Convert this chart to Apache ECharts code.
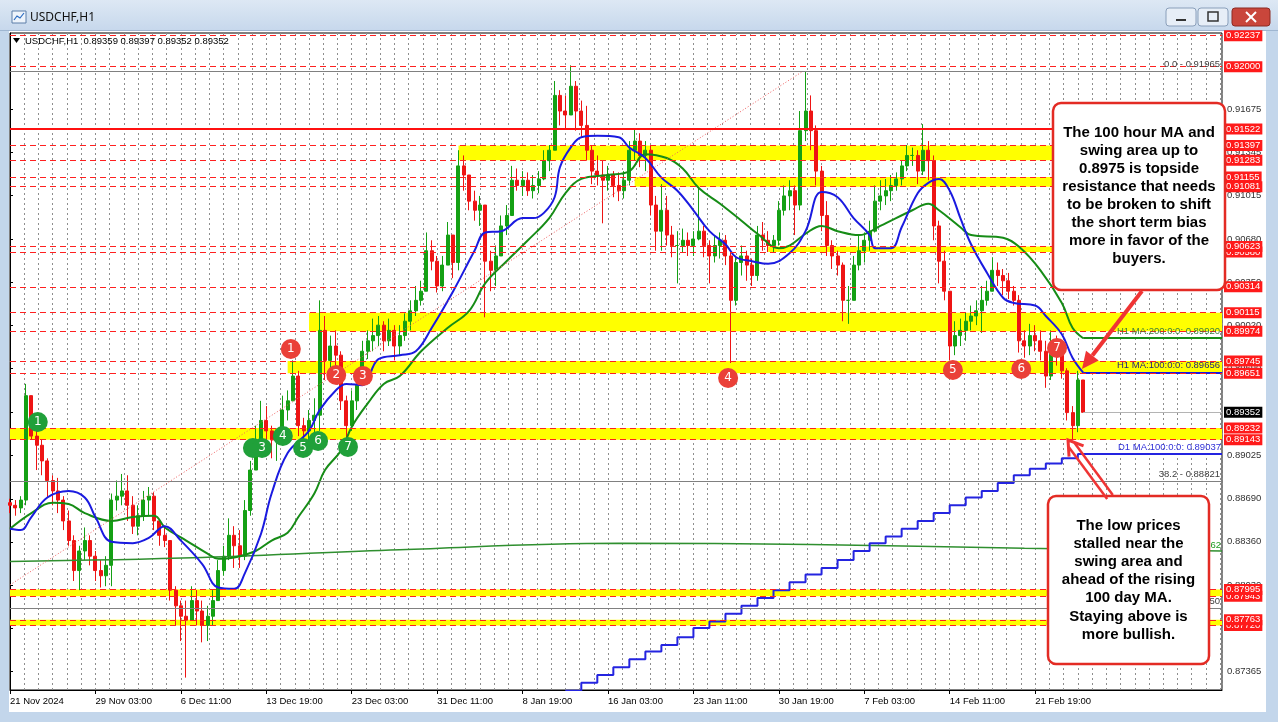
<!DOCTYPE html>
<html><head><meta charset="utf-8">
<script src="https://cdn.jsdelivr.net/npm/echarts@6/dist/echarts.min.js"></script>
<style>html,body{margin:0;padding:0;background:#fff;overflow:hidden}#c{width:1278px;height:722px}</style>
</head><body><div id="c"></div>
<script>
// ---------- DATA ----------
const tickLabels = ['21 Nov 2024','29 Nov 03:00','6 Dec 11:00','13 Dec 19:00','23 Dec 03:00','31 Dec 11:00','8 Jan 19:00','16 Jan 03:00','23 Jan 11:00','30 Jan 19:00','7 Feb 03:00','14 Feb 11:00','21 Feb 19:00'];
const BARS_PER_LABEL = 16;   // 8-hour bars
const SLOTS = 228;
const firstOpen = 0.8866;
const closes = [
0.8864,0.8862,0.8868,0.8948,0.8917,0.8910,0.8898,0.8883,0.8875,0.8868,
0.8852,0.8837,0.8814,0.8829,0.8837,0.8825,0.8814,0.8810,0.8818,0.8868,
0.8871,0.8875,0.8864,0.8848,0.8856,0.8868,0.8871,0.8852,0.8841,0.8837,
0.8799,0.8787,0.8779,0.8776,0.8791,0.8783,0.8772,0.8779,0.8791,0.8814,
0.8825,0.8841,0.8833,0.8825,0.8860,0.8891,0.8914,0.8929,0.8921,0.8914,
0.8914,0.8937,0.8944,0.8963,0.8925,0.8921,0.8929,0.8933,0.8998,0.8975,
0.8986,0.8979,0.8944,0.8925,0.8944,0.8956,0.8982,0.8990,0.8994,0.9002,
0.8990,0.8998,0.8986,0.8994,0.9005,0.9013,0.9021,0.9028,0.9059,0.9051,
0.9032,0.9048,0.9071,0.9050,0.9124,0.9117,0.9097,0.9090,0.9094,0.9051,
0.9044,0.9055,0.9078,0.9086,0.9113,0.9109,0.9113,0.9105,0.9109,0.9114,
0.9128,0.9136,0.9178,0.9166,0.9163,0.9185,0.9166,0.9155,0.9136,0.9120,
0.9117,0.9113,0.9117,0.9109,0.9105,0.9113,0.9136,0.9143,0.9132,0.9136,
0.9094,0.9074,0.9090,0.9071,0.9063,0.9063,0.9067,0.9063,0.9068,0.9074,
0.9063,0.9055,0.9063,0.9067,0.9055,0.9021,0.9050,0.9055,0.9048,0.9040,
0.9071,0.9067,0.9063,0.9067,0.9090,0.9101,0.9105,0.9094,0.9151,0.9166,
0.9151,0.9120,0.9086,0.9063,0.9055,0.9048,0.9021,0.9021,0.9048,0.9059,
0.9067,0.9074,0.9097,0.9101,0.9105,0.9109,0.9114,0.9124,0.9132,0.9132,
0.9120,0.9136,0.9128,0.9078,0.9051,0.9028,0.8986,0.8994,0.8998,0.9005,
0.9009,0.9013,0.9021,0.9028,0.9044,0.9040,0.9036,0.9028,0.9021,0.8990,
0.8986,0.8994,0.8990,0.8982,0.8963,0.8986,0.8979,0.8967,0.8935,0.8925,
0.8960,0.89352];
const highs = [
0.8869,0.8868,0.8871,0.8957,0.8948,0.8921,0.8914,0.8900,0.8887,0.8885,
0.8871,0.8860,0.8841,0.8833,0.8847,0.8841,0.8829,0.8822,0.8825,0.8873,
0.8883,0.8888,0.8887,0.8871,0.8864,0.8875,0.8878,0.8874,0.8852,0.8848,
0.8837,0.8802,0.8791,0.8791,0.8802,0.8799,0.8791,0.8787,0.8799,0.8822,
0.8833,0.8854,0.8848,0.8845,0.8868,0.8898,0.8925,0.8944,0.8940,0.8925,
0.8921,0.8948,0.8952,0.8975,0.8967,0.8931,0.8937,0.8946,0.9021,0.9009,
0.8994,0.8998,0.8982,0.8948,0.8952,0.8963,0.8990,0.8998,0.9007,0.9009,
0.9005,0.9007,0.9002,0.9002,0.9011,0.9021,0.9032,0.9036,0.9073,0.9067,
0.9055,0.9055,0.9081,0.9071,0.9136,0.9132,0.9117,0.9105,0.9101,0.9094,
0.9059,0.9063,0.9086,0.9094,0.9124,0.9122,0.9120,0.9119,0.9117,0.9120,
0.9136,0.9140,0.9189,0.9182,0.9178,0.9201,0.9189,0.9174,0.9170,0.9140,
0.9132,0.9128,0.9124,0.9120,0.9119,0.9120,0.9143,0.9153,0.9149,0.9143,
0.9140,0.9101,0.9110,0.9101,0.9078,0.9074,0.9076,0.9073,0.9074,0.9107,
0.9078,0.9067,0.9071,0.9073,0.9071,0.9059,0.9055,0.9063,0.9059,0.9053,
0.9078,0.9081,0.9074,0.9071,0.9097,0.9109,0.9113,0.9109,0.9166,0.91965,
0.9178,0.9155,0.9124,0.9097,0.9067,0.9059,0.9050,0.9032,0.9055,0.9071,
0.9073,0.9082,0.9109,0.9113,0.9114,0.9117,0.9119,0.9128,0.9140,0.9138,
0.9136,0.9156,0.9143,0.9132,0.9082,0.9059,0.9028,0.9005,0.9007,0.9012,
0.9017,0.9021,0.9032,0.9036,0.9054,0.9050,0.9045,0.9042,0.9032,0.9025,
0.8998,0.9003,0.9002,0.8998,0.8990,0.8998,0.8994,0.8982,0.8969,0.8940,
0.8967,0.89397];
const lows = [
0.8858,0.8856,0.8858,0.8864,0.8914,0.8891,0.8887,0.8870,0.8864,0.8858,
0.8845,0.8833,0.8806,0.8799,0.8822,0.8818,0.8806,0.8801,0.8802,0.8802,
0.8860,0.8864,0.8852,0.8842,0.8841,0.8852,0.8856,0.8845,0.8833,0.8832,
0.8791,0.8772,0.8760,0.8732,0.8776,0.8772,0.8759,0.8760,0.8772,0.8791,
0.8810,0.8822,0.8816,0.8816,0.8822,0.8856,0.8891,0.8914,0.8914,0.8900,
0.8898,0.8910,0.8929,0.8944,0.8917,0.8914,0.8914,0.8914,0.8921,0.8960,
0.8967,0.8971,0.8937,0.8916,0.8921,0.8937,0.8956,0.8976,0.8982,0.8986,
0.8982,0.8986,0.8975,0.8979,0.8990,0.8998,0.9009,0.9017,0.9028,0.9044,
0.9027,0.9028,0.9048,0.9038,0.9044,0.9105,0.9090,0.9082,0.9078,0.9008,
0.9028,0.9032,0.9055,0.9071,0.9086,0.9105,0.9101,0.9101,0.9099,0.9103,
0.9113,0.9120,0.9136,0.9155,0.9153,0.9163,0.9151,0.9146,0.9128,0.9110,
0.9109,0.9080,0.9105,0.9100,0.9097,0.9099,0.9109,0.9128,0.9123,0.9120,
0.9086,0.9059,0.9059,0.9063,0.9054,0.9034,0.9058,0.9055,0.9055,0.9067,
0.9054,0.9034,0.9050,0.9053,0.9048,0.8973,0.9017,0.9040,0.9036,0.9032,
0.9036,0.9059,0.9058,0.9058,0.9063,0.9086,0.9090,0.9071,0.9090,0.9143,
0.9136,0.9109,0.9074,0.9055,0.9045,0.9040,0.9005,0.9003,0.9021,0.9044,
0.9050,0.9059,0.9073,0.9090,0.9094,0.9097,0.9105,0.9109,0.9120,0.9124,
0.9110,0.9117,0.9113,0.9067,0.9034,0.9021,0.8975,0.8979,0.8986,0.8990,
0.8998,0.9002,0.8996,0.9017,0.9028,0.9032,0.9025,0.9022,0.9017,0.8981,
0.8977,0.8979,0.8982,0.8975,0.8954,0.8960,0.8971,0.8961,0.8929,0.8914,
0.8920,0.89352];

// H1 MA 100 (blue)
const ma100Bars = [0,2,4,7,11,14,16,19,23,26,29,32,36,39,42,44,47,49,52,56,58,61,63,66,69,73,76,79,83,87,89,92,96,98,100,102,103,105,107,110,114,116,119,122,125,128,131,134,136,139,142,146,149,152,155,158,161,162,165,167,170,172,174,176,178,180,183,186,188,192,194,197,199,201];
const ma100Vals = [0.8846,0.8845,0.8855,0.8870,0.8875,0.8870,0.8855,0.8836,0.8835,0.8839,0.8848,0.8837,0.8819,0.8801,0.8800,0.8812,0.8842,0.8873,0.8904,0.8921,0.8937,0.8952,0.8957,0.8956,0.8976,0.8979,0.8982,0.9000,0.9028,0.9059,0.9073,0.9074,0.9084,0.9084,0.9088,0.9100,0.9123,0.9138,0.9146,0.9147,0.9146,0.9138,0.9130,0.9115,0.9105,0.9090,0.9074,0.9064,0.9054,0.9051,0.9049,0.9057,0.9074,0.9104,0.9100,0.9084,0.9071,0.9061,0.9061,0.9077,0.9103,0.9111,0.9114,0.9105,0.9084,0.9064,0.9042,0.9023,0.9019,0.9017,0.9009,0.8995,0.8977,0.89656];
// H1 MA 200 (green)
const ma200Bars = [0,4,8,11,14,19,23,27,29,33,37,39,42,46,49,52,54,57,59,62,64,67,70,73,77,82,86,89,93,97,101,104,107,112,116,119,123,126,129,133,137,140,144,146,149,152,155,159,163,169,172,174,178,180,186,189,193,197,199,201];
const ma200Vals = [0.8846,0.8858,0.8866,0.8865,0.8858,0.8852,0.8855,0.8856,0.8847,0.8837,0.8827,0.8823,0.8824,0.8829,0.8837,0.8843,0.8855,0.8873,0.8891,0.8906,0.8924,0.8942,0.8957,0.8963,0.8982,0.9000,0.9013,0.9034,0.9051,0.9067,0.9084,0.9103,0.9114,0.9117,0.9120,0.9133,0.9130,0.9122,0.9107,0.9095,0.9082,0.9072,0.9061,0.9063,0.9072,0.9078,0.9074,0.9071,0.9078,0.9090,0.9095,0.9090,0.9077,0.9071,0.9069,0.9062,0.9044,0.9019,0.9000,0.8992];
const h1Ma100Last = 0.89656, h1Ma200Last = 0.89920;
// D1 MA 100 (blue staircase)
const d1Ma100Bars = [104,107,110,113,116,119,122,125,128,131,134,137,140,143,146,149,152,155,158,161,164,167,170,173,176,179,182,185,188,191,194,197,200];
const d1Ma100Vals = [0.8722,0.8728,0.8734,0.8740,0.8746,0.8752,0.8757,0.8763,0.8770,0.8775,0.8781,0.8787,0.8793,0.8799,0.8805,0.8811,0.8816,0.8822,0.8829,0.8835,0.8840,0.8846,0.8852,0.8858,0.8864,0.8870,0.8875,0.8881,0.8887,0.8892,0.8896,0.8900,0.89037];
// D1 MA 200 (green, flat)
const d1Ma200Bars = [0,36,73,114,150,190,227];
const d1Ma200Vals = [0.8821,0.8824,0.8830,0.8835,0.8834,0.8831,0.8829];
const d1Ma200Label = 0.88362;

const axisTicks = [0.91675,0.91345,0.91015,0.90680,0.90350,0.90020,0.89690,0.89355,0.89025,0.88690,0.88360,0.88030,0.87700,0.87365];
const levelPrices = [0.87720,0.87763,0.87943,0.87995,0.89143,0.89232,0.89651,0.89745,0.89974,0.90115,0.90314,0.90580,0.90623,0.91081,0.91155,0.91283,0.91397,0.91522,0.92000,0.92237];
const solidLevel = 0.91522;
const bandTops    = [0.91397,0.91155,0.90623,0.90115,0.89745,0.89232,0.87995,0.87763];
const bandBottoms = [0.91283,0.91081,0.90580,0.89974,0.89651,0.89143,0.87943,0.87720];
const bandStartBars = [84,117,142,56,52,0,0,0];
const fibPrices = [0.91965,0.88821,0.87850];
const fibTexts = ['0.0 - 0.91965','38.2 - 0.88821','50.0 - 0.87850'];
const trendStart = [0, 0.8803], trendEnd = [148.5, 0.91965];
const lastPrice = 0.89352;
const greenTags = ['1','','3','4','5','6','7'];
const greenBars = [5.2,45.5,47.2,51.1,54.9,57.7,63.3];
const greenPrices = [0.89278,0.89079,0.89079,0.89171,0.89079,0.89133,0.89087];
const redTags = ['1','2','3','4','5','6','7'];
const redBars = [52.6,61.1,66.1,134.5,176.6,189.4,196.1];
const redPrices = [0.89837,0.89638,0.89630,0.89615,0.89676,0.89684,0.89845];
const headerText = 'USDCHF,H1  0.89359 0.89397 0.89352 0.89352';
const note1 = ['The 100 hour MA and','swing area up to','0.8975 is topside','resistance that needs','to be broken to shift','the short term bias','more in favor of the','buyers.'];
const note2 = ['The low prices','stalled near the','swing area and','ahead of the rising','100 day MA.','Staying above is','more bullish.'];

// ---------- BUILD ----------
const candleData = closes.map((c, i) => [i === 0 ? firstOpen : closes[i - 1], c, lows[i], highs[i]]);
const cats = Array.from({length: SLOTS}, (_, i) => String(i));
const isLabelIdx = (idx) => idx % BARS_PER_LABEL === 0 && idx / BARS_PER_LABEL < tickLabels.length;
const pair = (xs, ys) => xs.map((x, i) => [x, ys[i]]);
const FONT = 'Liberation Sans';
const RED = '#ff2020';

const levelLines = levelPrices.map(p => ({
  yAxis: p,
  lineStyle: p === solidLevel ? {color: '#ff1010', width: 2, type: 'solid'} : {color: RED, width: 1, type: [6, 4]},
  label: {show: true, position: 'end', distance: 2, formatter: p.toFixed(5), color: '#fff', backgroundColor: '#ff1a1a',
          padding: [1, 2, 0, 2], fontSize: 9.5, fontFamily: FONT}
}));
const fibLines = fibPrices.map((p, i) => ({
  yAxis: p,
  lineStyle: {color: '#808080', width: 1, type: 'solid'},
  label: {show: true, position: 'insideEndTop', distance: 2, formatter: fibTexts[i], color: '#404040', fontSize: 9.5, fontFamily: FONT}
}));

function arrowHead(tip, tail, len, half) {
  const dx = tip[0] - tail[0], dy = tip[1] - tail[1], L = Math.hypot(dx, dy);
  const ux = dx / L, uy = dy / L, px = -uy, py = ux;
  const bx = tip[0] - ux * len, by = tip[1] - uy * len;
  return {pts: [[tip[0], tip[1]], [bx + px * half, by + py * half], [bx - px * half, by - py * half]], base: [bx, by], u: [ux, uy], p: [px, py]};
}
const arrowColor = '#ef3434';
const a1tip = [1082, 369], a1tail = [1142, 291];
const h1 = arrowHead(a1tip, a1tail, 17, 8);
const a2tip = [1068, 440], a2tail = [1110, 497];
const h2 = arrowHead(a2tip, a2tail, 14, 9);
const off = 3.5;
const a2lines = [-1, 1].map(s => ({
  type: 'line', z: 102,
  shape: {x1: a2tail[0] + h2.p[0] * off * s, y1: a2tail[1] + h2.p[1] * off * s,
          x2: a2tip[0] - h2.u[0] * 6 + h2.p[0] * off * s, y2: a2tip[1] - h2.u[1] * 6 + h2.p[1] * off * s},
  style: {stroke: arrowColor, lineWidth: 2.5}
}));

const graphics = [
  {type: 'rect', z: -10, shape: {x: 0, y: 0, width: 1278, height: 722}, style: {fill: '#c3d6eb'}},
  {type: 'rect', z: -9, shape: {x: 0, y: 0, width: 1278, height: 30},
   style: {fill: new echarts.graphic.LinearGradient(0, 0, 0, 1, [{offset: 0, color: '#dde8f4'}, {offset: 1, color: '#c7d8ec'}])}},
  {type: 'rect', z: -8, shape: {x: 9, y: 31, width: 1257, height: 681}, style: {fill: '#ffffff'}},
  {type: 'line', z: -8, shape: {x1: 0, y1: 30.5, x2: 1278, y2: 30.5}, style: {stroke: '#9fb6d1', lineWidth: 1}},
  // title icon
  {type: 'rect', z: -7, shape: {x: 12, y: 11, width: 14, height: 12}, style: {fill: '#eef4fb', stroke: '#5d7fa8', lineWidth: 1}},
  {type: 'polyline', z: -7, shape: {points: [[14, 20], [17, 16], [20, 18], [24, 13]]}, style: {stroke: '#2a6bc0', lineWidth: 1.2, fill: null}},
  {type: 'text', z: -7, style: {text: 'USDCHF,H1', x: 30, y: 18, fill: '#111', font: '12px "Noto Sans"', verticalAlign: 'middle', align: 'left'}},
  // window buttons
  {type: 'rect', z: -7, shape: {x: 1166, y: 8, width: 30, height: 18, r: 3}, style: {fill: '#e7eef7', stroke: '#8a9fba', lineWidth: 1}},
  {type: 'line', z: -6, shape: {x1: 1176, y1: 20, x2: 1186, y2: 20}, style: {stroke: '#333', lineWidth: 2}},
  {type: 'rect', z: -7, shape: {x: 1198, y: 8, width: 30, height: 18, r: 3}, style: {fill: '#e7eef7', stroke: '#8a9fba', lineWidth: 1}},
  {type: 'rect', z: -6, shape: {x: 1208, y: 12, width: 10, height: 9}, style: {fill: null, stroke: '#333', lineWidth: 1.5}},
  {type: 'rect', z: -7, shape: {x: 1232, y: 8, width: 38, height: 18, r: 3}, style: {fill: '#c9463b', stroke: '#8d2a22', lineWidth: 1}},
  {type: 'line', z: -6, shape: {x1: 1246, y1: 12, x2: 1256, y2: 22}, style: {stroke: '#fff', lineWidth: 2}},
  {type: 'line', z: -6, shape: {x1: 1256, y1: 12, x2: 1246, y2: 22}, style: {stroke: '#fff', lineWidth: 2}},
  // chart header
  {type: 'polygon', z: 50, shape: {points: [[13, 38], [20, 38], [16.5, 43]]}, style: {fill: '#000'}},
  {type: 'text', z: 50, style: {text: headerText, x: 25, y: 41, fill: '#000', font: '9.5px "' + FONT + '"', verticalAlign: 'middle', align: 'left'}},
  // note boxes
  {type: 'rect', z: 100, shape: {x: 1053, y: 103, width: 172, height: 187, r: 8}, style: {fill: '#fff', stroke: '#e32b24', lineWidth: 2.5}},
  {type: 'text', z: 101, style: {text: note1.join('\n'), x: 1139, y: 196, align: 'center', verticalAlign: 'middle', lineHeight: 18, fill: '#000', font: 'bold 15px "' + FONT + '"'}},
  {type: 'rect', z: 100, shape: {x: 1048, y: 496, width: 161, height: 168, r: 8}, style: {fill: '#fff', stroke: '#e32b24', lineWidth: 2.5}},
  {type: 'text', z: 101, style: {text: note2.join('\n'), x: 1128.5, y: 580, align: 'center', verticalAlign: 'middle', lineHeight: 18.2, fill: '#000', font: 'bold 15px "' + FONT + '"'}},
  // arrows
  {type: 'line', z: 102, shape: {x1: a1tail[0], y1: a1tail[1], x2: h1.base[0], y2: h1.base[1]}, style: {stroke: arrowColor, lineWidth: 4}},
  {type: 'polygon', z: 102, shape: {points: h1.pts}, style: {fill: arrowColor}},
  ...a2lines,
  {type: 'polyline', z: 102, shape: {points: [h2.pts[1], h2.pts[0], h2.pts[2]]}, style: {stroke: arrowColor, lineWidth: 3, fill: null}}
];

const option = {
  animation: false,
  backgroundColor: '#ffffff',
  textStyle: {fontFamily: FONT},
  grid: {left: 10, top: 33, right: 56, bottom: 32, show: true, borderColor: '#000', borderWidth: 1, backgroundColor: '#fff'},
  xAxis: [
    {type: 'category', data: cats, boundaryGap: false,
     axisLine: {lineStyle: {color: '#000'}},
     axisTick: {show: true, interval: isLabelIdx, length: 4, lineStyle: {color: '#000'}},
     axisLabel: {interval: isLabelIdx, formatter: (v, idx) => isLabelIdx(idx) ? tickLabels[idx / BARS_PER_LABEL] : '',
                 align: 'left', color: '#000', fontSize: 9.5, margin: 6},
     splitLine: {show: false}},
    {type: 'value', min: 0, max: SLOTS - 1, interval: BARS_PER_LABEL / 6, position: 'bottom',
     axisLine: {show: false}, axisTick: {show: false}, axisLabel: {show: false},
     splitLine: {show: true, lineStyle: {color: '#8e8e8e', type: [2, 3], width: 1}}}
  ],
  yAxis: {type: 'value', position: 'right', min: 0.87225, max: 0.92258,
    axisLine: {show: true, lineStyle: {color: '#000'}},
    axisTick: {show: true, customValues: axisTicks, length: 3, lineStyle: {color: '#000'}},
    axisLabel: {customValues: axisTicks, formatter: v => v.toFixed(5), color: '#333', fontSize: 9.5, margin: 5},
    splitLine: {show: false}},
  graphic: graphics,
  series: [
    {type: 'line', name: 'bands', xAxisIndex: 1, data: [], z: 1,
     markArea: {silent: true, itemStyle: {color: '#ffff00', opacity: 1},
       data: bandTops.map((t, i) => [{xAxis: bandStartBars[i], yAxis: t}, {xAxis: SLOTS - 1, yAxis: bandBottoms[i]}])}},
    {type: 'candlestick', data: candleData, barWidth: 3.5, z: 3,
     itemStyle: {color: '#14a014', color0: '#ee1414', borderColor: '#14a014', borderColor0: '#ee1414', borderWidth: 1}},
    {type: 'line', name: 'D1 MA200', xAxisIndex: 1, data: pair(d1Ma200Bars, d1Ma200Vals), smooth: 0.4, symbol: 'none', z: 4,
     lineStyle: {color: '#2f8f2f', width: 1.5},
     markLine: {symbol: 'none', silent: true,
       data: [[{xAxis: d1Ma200Bars[d1Ma200Bars.length - 2], yAxis: d1Ma200Vals[d1Ma200Vals.length - 1]},
               {xAxis: SLOTS - 1, yAxis: d1Ma200Vals[d1Ma200Vals.length - 1]}]],
       lineStyle: {color: 'rgba(0,0,0,0)', width: 1},
       label: {show: true, position: 'insideEndTop', distance: 1, formatter: 'D1 MA:200:0:0: ' + d1Ma200Label.toFixed(5), color: '#1f9a1f', fontSize: 9.5}}},
    {type: 'line', name: 'D1 MA100', xAxisIndex: 1, data: pair(d1Ma100Bars, d1Ma100Vals), step: 'end', symbol: 'none', z: 4,
     lineStyle: {color: '#2424e0', width: 2},
     markLine: {symbol: 'none', silent: true,
       data: [[{xAxis: d1Ma100Bars[d1Ma100Bars.length - 1], yAxis: d1Ma100Vals[d1Ma100Vals.length - 1]},
               {xAxis: SLOTS - 1, yAxis: d1Ma100Vals[d1Ma100Vals.length - 1]}]],
       lineStyle: {color: '#2424e0', width: 2, type: 'solid'},
       label: {position: 'insideEndTop', distance: 1, formatter: 'D1 MA:100:0:0: ' + d1Ma100Vals[d1Ma100Vals.length - 1].toFixed(5), color: '#3030d8', fontSize: 9.5}}},
    {type: 'line', name: 'H1 MA200', xAxisIndex: 1, data: pair(ma200Bars, ma200Vals), smooth: 0.4, symbol: 'none', z: 4,
     lineStyle: {color: '#168c16', width: 2},
     markLine: {symbol: 'none', silent: true,
       data: [[{xAxis: ma200Bars[ma200Bars.length - 1], yAxis: h1Ma200Last}, {xAxis: SLOTS - 1, yAxis: h1Ma200Last}]],
       lineStyle: {color: '#168c16', width: 2, type: 'solid'},
       label: {position: 'insideEndTop', distance: 2, formatter: 'H1 MA:200:0:0: ' + h1Ma200Last.toFixed(5), color: '#3d7d3d', fontSize: 9.5}}},
    {type: 'line', name: 'H1 MA100', xAxisIndex: 1, data: pair(ma100Bars, ma100Vals), smooth: 0.4, symbol: 'none', z: 4,
     lineStyle: {color: '#1a1ae0', width: 2},
     markLine: {symbol: 'none', silent: true,
       data: [[{xAxis: ma100Bars[ma100Bars.length - 1], yAxis: h1Ma100Last}, {xAxis: SLOTS - 1, yAxis: h1Ma100Last}]],
       lineStyle: {color: '#1a1ae0', width: 2, type: 'solid'},
       label: {position: 'insideEndTop', distance: 2, formatter: 'H1 MA:100:0:0: ' + h1Ma100Last.toFixed(5), color: '#25257a', fontSize: 9.5}}},
    {type: 'line', name: 'levels', xAxisIndex: 1, data: [], z: 5,
     markLine: {symbol: ['none', 'none'], silent: true, precision: 5,
       data: [
         ...fibLines,
         [{xAxis: trendStart[0], yAxis: trendStart[1], lineStyle: {color: '#f06060', width: 1, type: [1, 2]}, label: {show: false}},
          {xAxis: trendEnd[0], yAxis: trendEnd[1]}],
         [{xAxis: closes.length - 1, yAxis: lastPrice, lineStyle: {color: '#b4b4b4', width: 1, type: 'solid'},
           label: {show: true, position: 'end', distance: 2, formatter: lastPrice.toFixed(5), color: '#fff', backgroundColor: '#000',
                   padding: [1, 2, 0, 2], fontSize: 9.5}},
          {xAxis: SLOTS - 1, yAxis: lastPrice}],
         ...levelLines
       ]}},
    {type: 'scatter', name: 'green marks', xAxisIndex: 1, z: 8, symbol: 'circle', symbolSize: 20,
     data: greenBars.map((b, i) => ({value: [b, greenPrices[i]], label: {formatter: greenTags[i]}})),
     itemStyle: {color: '#20a03a', opacity: 1},
     label: {show: true, position: 'inside', color: '#fff', fontSize: 12, fontFamily: 'DejaVu Sans'}},
    {type: 'scatter', name: 'red marks', xAxisIndex: 1, z: 8, symbol: 'circle', symbolSize: 20,
     data: redBars.map((b, i) => ({value: [b, redPrices[i]], label: {formatter: redTags[i]}})),
     itemStyle: {color: '#ea4038', opacity: 1},
     label: {show: true, position: 'inside', color: '#fff', fontSize: 12, fontFamily: 'DejaVu Sans'}}
  ]
};
const chart = echarts.init(document.getElementById('c'), null, {renderer: 'canvas', width: 1278, height: 722});
chart.setOption(option);
</script>
</body></html>
